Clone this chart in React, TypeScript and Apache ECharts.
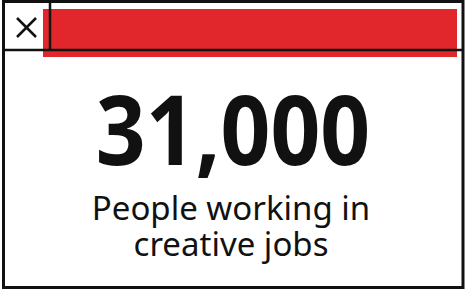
import React, { useEffect, useRef } from "react";
import * as echarts from "echarts";

const headlineValue = ["31,000"];
const labelLines = ["People working in", "creative jobs"];
const accentColors = ["#e2272c"];

export default function App() {
  const ref = useRef<HTMLDivElement>(null);
  useEffect(() => {
    if (!ref.current) return;
    const chart = echarts.init(ref.current, null, { renderer: "svg" });
    const black = "#111111";
    chart.setOption({
      animation: false,
      backgroundColor: "#ffffff",
      graphic: [
        { type: "rect", shape: { x: 43, y: 9, width: 414, height: 48 }, style: { fill: accentColors[0] }, z: 1 },
        { type: "rect", shape: { x: 3.5, y: 1.5, width: 459.5, height: 286 }, style: { fill: "none", stroke: black, lineWidth: 3 }, z: 5 },
        { type: "line", shape: { x1: 3, y1: 50, x2: 463, y2: 50 }, style: { stroke: black, lineWidth: 2.5 }, z: 5 },
        { type: "line", shape: { x1: 50, y1: 2, x2: 50, y2: 50 }, style: { stroke: black, lineWidth: 2.5 }, z: 5 },
        { type: "line", shape: { x1: 17, y1: 18, x2: 36, y2: 37 }, style: { stroke: black, lineWidth: 2.5 }, z: 5 },
        { type: "line", shape: { x1: 36, y1: 18, x2: 17, y2: 37 }, style: { stroke: black, lineWidth: 2.5 }, z: 5 },
        {
          type: "text", x: 233, y: 127, scaleX: 0.9, z: 6,
          style: { text: headlineValue[0], font: 'bold 97px "Noto Sans"', fill: black, align: "center", verticalAlign: "middle" },
        },
        {
          type: "text", x: 231, y: 225, z: 6,
          style: { text: labelLines.join("\n"), font: '33px "Noto Sans"', lineHeight: 36, fill: black, align: "center", verticalAlign: "middle" },
        },
      ],
    });
    return () => chart.dispose();
  }, []);
  return <div ref={ref} style={{ position: "fixed", left: 0, top: 0, width: 467, height: 289 }} />;
}
